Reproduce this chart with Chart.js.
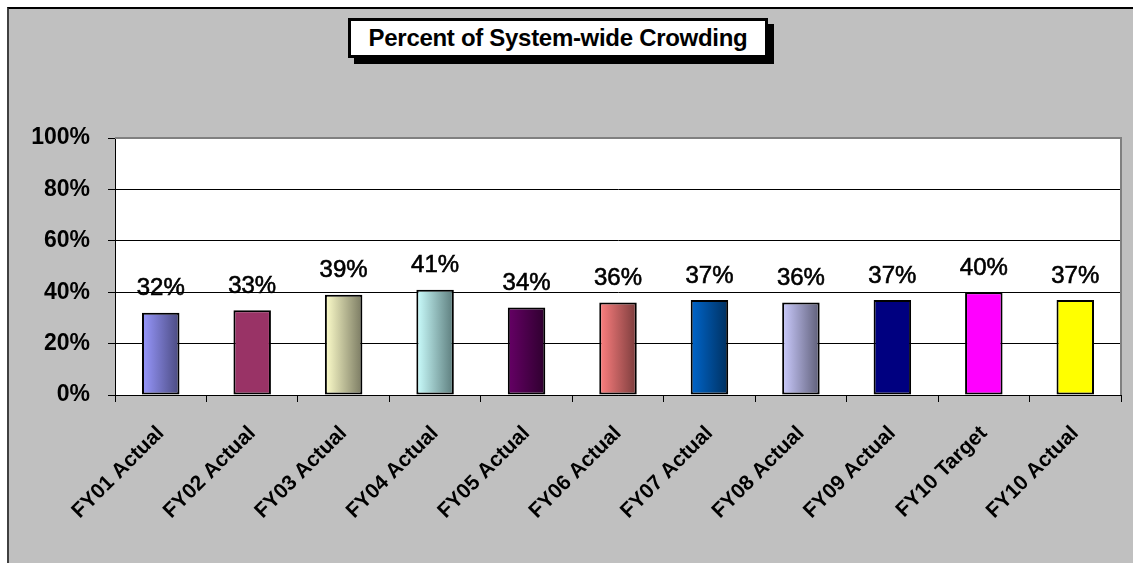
<!DOCTYPE html>
<html>
<head>
<meta charset="utf-8">
<script src="https://cdn.jsdelivr.net/npm/chart.js@4.4.0/dist/chart.umd.min.js"></script>
<style>
  body { margin: 0; background: #fff; }
  #frame {
    position: absolute; left: 7px; top: 7px; width: 1140px; height: 570px;
    background: #c0c0c0; border-left: 2px solid #404040; border-top: 2px solid #000;
  }
  #title {
    position: absolute; left: 348px; top: 18px; width: 414px; height: 34px;
    background: #fff; border: 3px solid #000; box-shadow: 6px 6px 0 #000;
    font: bold 24px "Liberation Sans", Arial, sans-serif; color: #000;
    text-align: center; line-height: 34px; letter-spacing: -0.3px;
  }
  #myChart { position: absolute; left: 0; top: 0; }
</style>
</head>
<body>
<div id="frame"></div>
<div id="title">Percent of System-wide Crowding</div>
<canvas id="myChart" width="1133" height="563"></canvas>
<script>
const categories = ['FY01 Actual', 'FY02 Actual', 'FY03 Actual', 'FY04 Actual', 'FY05 Actual',
    'FY06 Actual', 'FY07 Actual', 'FY08 Actual', 'FY09 Actual', 'FY10 Target', 'FY10 Actual'];
const crowding = [32, 33, 39, 41, 34, 36, 37, 36, 37, 40, 37];
const yTicks = [0, 20, 40, 60, 80, 100];

// left -> right gradient colours for each bar
const barColors = [
    ['#9999ff', '#4a4a80'], ['#993366', '#993366'], ['#ffffcc', '#7a7a62'], ['#ccffff', '#5c7c7c'],
    ['#660066', '#2e002e'], ['#ff8080', '#7a3c3c'], ['#0066cc', '#00305f'], ['#ccccff', '#5e5e78'],
    ['#000080', '#000080'], ['#ff00ff', '#ff00ff'], ['#ffff00', '#ffff00']
];

const barPct = 0.41;
const font = '"Liberation Sans", Arial, sans-serif';

const plotBg = {
    id: 'plotBg',
    beforeDraw(chart) {
        const { ctx, chartArea: a } = chart;
        ctx.save();
        ctx.fillStyle = '#fff';
        ctx.fillRect(a.left, a.top, a.right - a.left, a.bottom - a.top);
        ctx.restore();
    },
    beforeDatasetsDraw(chart) {
        const { ctx, chartArea: a } = chart;
        ctx.save();
        ctx.strokeStyle = '#808080';
        ctx.lineWidth = 2;
        ctx.beginPath();
        ctx.moveTo(a.left, a.top);
        ctx.lineTo(a.right, a.top);
        ctx.lineTo(a.right, a.bottom);
        ctx.stroke();
        ctx.restore();
    }
};

const valueLabels = {
    id: 'valueLabels',
    afterDatasetsDraw(chart) {
        const { ctx } = chart;
        const meta = chart.getDatasetMeta(0);
        ctx.save();
        ctx.font = '24px ' + font;
        ctx.fillStyle = '#000';
        ctx.strokeStyle = '#000';
        ctx.lineWidth = 0.6;
        ctx.textAlign = 'center';
        ctx.textBaseline = 'middle';
        meta.data.forEach((bar, i) => {
            ctx.fillText(crowding[i] + '%', bar.x, bar.y - 24);
            ctx.strokeText(crowding[i] + '%', bar.x, bar.y - 24);
        });
        ctx.restore();
    }
};

const ctx = document.getElementById('myChart');

new Chart(ctx, {
    type: 'bar',
    data: {
        labels: categories,
        datasets: [{
            data: crowding,
            borderColor: '#000',
            borderWidth: 2,
            borderSkipped: false,
            categoryPercentage: 1,
            barPercentage: barPct,
            backgroundColor: (c) => {
                const chart = c.chart;
                const xs = chart.scales.x;
                const col = barColors[c.dataIndex] || ['#888', '#888'];
                if (!xs || !chart.chartArea) return col[0];
                const cx = xs.getPixelForValue(c.dataIndex);
                const half = xs.width / categories.length * barPct / 2;
                const g = chart.ctx.createLinearGradient(cx - half, 0, cx + half, 0);
                g.addColorStop(0, col[0]);
                g.addColorStop(1, col[1]);
                return g;
            }
        }]
    },
    options: {
        responsive: false,
        animation: false,
        devicePixelRatio: 1,
        layout: { padding: { left: 0, top: 138, right: 12, bottom: 0 } },
        plugins: {
            legend: { display: false },
            tooltip: { enabled: false }
        },
        scales: {
            x: {
                afterFit: (s) => { s.height = 168; },
                grid: { drawOnChartArea: false, tickLength: 7, tickColor: '#000' },
                border: { color: '#000', width: 1 },
                ticks: {
                    minRotation: 45, maxRotation: 45,
                    padding: 19,
                    color: '#000',
                    font: { family: font, size: 21, weight: 'bold' }
                }
            },
            y: {
                min: 0, max: 100,
                afterFit: (s) => { s.width = 115; },
                afterBuildTicks: (s) => { s.ticks = yTicks.map(v => ({ value: v })); },
                grid: {
                    color: (c) => c.tick && c.tick.value === 100 ? 'rgba(0,0,0,0)' : '#000',
                    tickLength: 7, tickColor: '#000', lineWidth: 1
                },
                border: { color: '#000', width: 1 },
                ticks: {
                    padding: 18,
                    color: '#000',
                    font: { family: font, size: 23, weight: 'bold' },
                    callback: (v) => v + '%'
                }
            }
        }
    },
    plugins: [plotBg, valueLabels]
});
</script>
</body>
</html>
